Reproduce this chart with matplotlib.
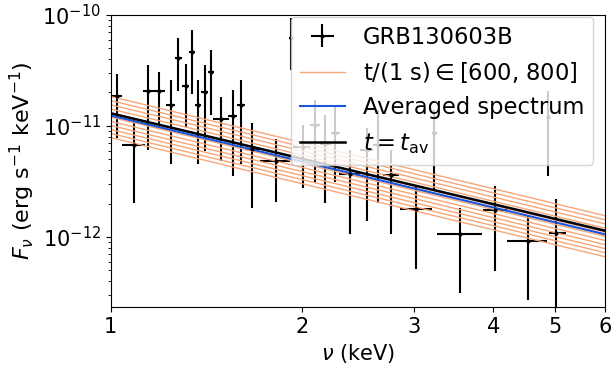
import numpy as np
import matplotlib
matplotlib.use('Agg')
import matplotlib.pyplot as plt
from matplotlib.ticker import NullLocator

# GRB130603B spectrum points (keV, and flux in units of 1e-11 erg/s/keV)
nu     = [1.021, 1.087, 1.144, 1.190, 1.242, 1.277, 1.311, 1.343, 1.371, 1.406, 1.437,
          1.492, 1.555, 1.602, 1.670, 1.819, 1.921, 2.004, 2.096, 2.173, 2.253, 2.379,
          2.533, 2.630, 2.760, 3.018, 3.230, 3.549, 4.025, 4.531, 4.884, 5.022]
nu_lo  = [1.0025, 1.042, 1.123, 1.165, 1.221, 1.261, 1.294, 1.327, 1.359, 1.389, 1.422,
          1.448, 1.529, 1.579, 1.626, 1.717, 1.907, 1.935, 2.058, 2.134, 2.218, 2.286,
          2.467, 2.586, 2.681, 2.852, 3.200, 3.265, 3.850, 4.209, 4.856, 4.902]
nu_hi  = [1.042, 1.131, 1.165, 1.219, 1.261, 1.294, 1.327, 1.359, 1.389, 1.422, 1.453,
          1.534, 1.579, 1.626, 1.717, 1.914, 1.935, 2.058, 2.134, 2.218, 2.295, 2.467,
          2.586, 2.681, 2.841, 3.200, 3.262, 3.844, 4.209, 4.856, 4.914, 5.195]
flux   = [1.864, 0.674, 2.067, 2.067, 1.546, 4.124, 2.307, 4.613, 1.546, 2.037, 3.047,
          1.156, 1.231, 1.546, 0.617, 0.484, 6.142, 0.651, 1.021, 0.684, 0.870, 0.367,
          0.608, 0.674, 0.362, 0.178, 0.870, 0.106, 0.175, 0.0926, 1.213, 0.109]
flux_lo = [0.775, 0.2025, 0.608, 1.021, 0.455, 2.067, 0.986, 1.942, 0.455, 0.595, 1.257,
           0.484, 0.357, 0.455, 0.183, 0.207, 3.196, 0.278, 0.307, 0.2025, 0.315, 0.106,
           0.139, 0.2025, 0.106, 0.0512, 0.260, 0.0311, 0.0497, 0.0271, 0.357, 0.0179]
flux_hi = [2.923, 1.180, 3.545, 3.066, 2.596, 6.168, 3.619, 7.325, 2.596, 3.545, 4.838,
           1.837, 2.111, 2.596, 1.064, 0.764, 9.397, 1.021, 1.715, 1.257, 1.492, 0.608,
           0.960, 1.394, 0.608, 0.294, 1.394, 0.183, 0.288, 0.158, 2.067, 0.220]

# power law models F = A * nu^index (A at 1 keV, units 1e-11)
orange_amp = [1.84, 1.69, 1.55, 1.42, 1.31, 1.20, 1.10, 1.01, 0.929, 0.855, 0.785]
orange_index = -1.38
avg_amp, avg_index = 1.24, -1.375
tav_amp, tav_index = 1.30, -1.36

xticks = [1, 2, 3, 4, 5, 6]

nu = np.array(nu)
flux = np.array(flux) * 1e-11
xerr = [nu - np.array(nu_lo), np.array(nu_hi) - nu]
yerr = [flux - np.array(flux_lo) * 1e-11, np.array(flux_hi) * 1e-11 - flux]

fig = plt.figure(figsize=(6.12, 3.72), dpi=100)
ax = fig.add_axes([0.181, 0.175, 0.808, 0.785])

eb = ax.errorbar(nu, flux, xerr=xerr, yerr=yerr, fmt='.', color='k',
                 ms=4, elinewidth=1.5, capsize=0, label='GRB130603B')

nn = np.geomspace(1, 6, 50)
for i, a in enumerate(orange_amp):
    lab = r't/(1 s)$\in$[600, 800]' if i == 0 else None
    ax.plot(nn, a * 1e-11 * nn**orange_index, color='#f5a77a', lw=1, label=lab)
l_avg, = ax.plot(nn, avg_amp * 1e-11 * nn**avg_index, color='#1a56db', lw=1.5,
                 label='Averaged spectrum')
l_tav, = ax.plot(nn, tav_amp * 1e-11 * nn**tav_index, color='k', lw=1.8,
                 label=r'$t = t_{\rm av}$')

ax.set_xscale('log')
ax.set_yscale('log')
ax.set_xlim(1, 6)
ax.set_ylim(10**-12.63, 1e-10)
ax.set_xticks(xticks)
ax.set_xticklabels([str(t) for t in xticks])
ax.xaxis.set_minor_locator(NullLocator())
ax.tick_params(labelsize=15)

ax.set_xlabel(r'$\nu$ (keV)', fontsize=15)
ax.set_ylabel(r'$F_\nu$ (erg s$^{-1}$ keV$^{-1}$)', fontsize=16)

handles, labels = ax.get_legend_handles_labels()
order = [labels.index('GRB130603B')] + [i for i, l in enumerate(labels) if l != 'GRB130603B']
ax.legend([handles[i] for i in order], [labels[i] for i in order], fontsize=16.3,
          loc='upper right', bbox_to_anchor=(0.976, 0.994), borderaxespad=0)

fig.savefig('out.png', dpi=100)
